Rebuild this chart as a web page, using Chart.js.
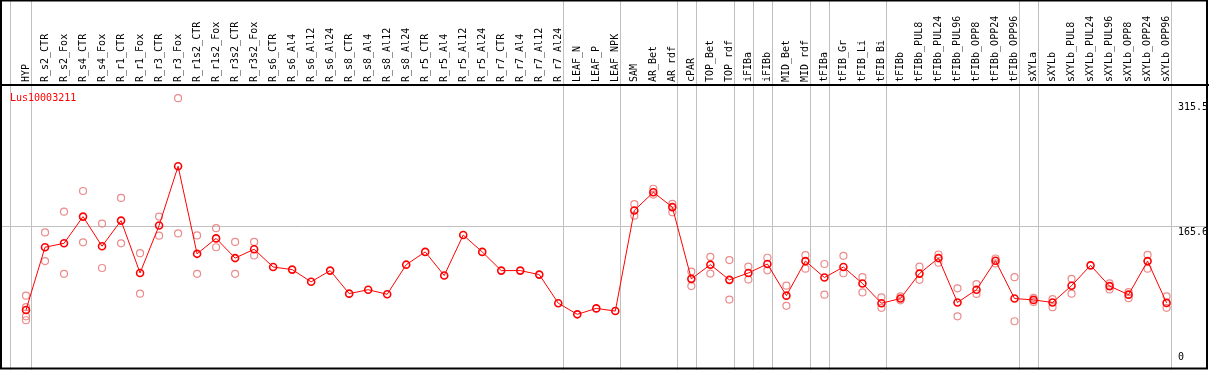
<!DOCTYPE html>
<html>
<head>
<meta charset="utf-8">
<script src="https://cdn.jsdelivr.net/npm/chart.js@4"></script>
<style>
  html, body { margin: 0; padding: 0; background: #fff; }
  canvas { display: block; }
</style>
</head>
<body>
<canvas id="expr" width="1209" height="370"></canvas>
<script>
const GENE = "Lus10003211";

const SAMPLES = ["HYP", "R_s2_CTR", "R_s2_Fox", "R_s4_CTR", "R_s4_Fox", "R_r1_CTR", "R_r1_Fox", "R_r3_CTR", "R_r3_Fox",
  "R_r1s2_CTR", "R_r1s2_Fox", "R_r3s2_CTR", "R_r3s2_Fox", "R_s6_CTR", "R_s6_Al4", "R_s6_Al12", "R_s6_Al24",
  "R_s8_CTR", "R_s8_Al4", "R_s8_Al12", "R_s8_Al24", "R_r5_CTR", "R_r5_Al4", "R_r5_Al12", "R_r5_Al24",
  "R_r7_CTR", "R_r7_Al4", "R_r7_Al12", "R_r7_Al24", "LEAF_N", "LEAF_P", "LEAF_NPK", "SAM", "AR_Bet", "AR_rdf",
  "cPAR", "TOP_Bet", "TOP_rdf", "iFIBa", "iFIBb", "MID_Bet", "MID_rdf", "tFIBa", "tFIB_Gr", "tFIB_Li", "tFIB_Bi",
  "tFIBb", "tFIBb_PUL8", "tFIBb_PUL24", "tFIBb_PUL96", "tFIBb_OPP8", "tFIBb_OPP24", "tFIBb_OPP96",
  "sXYLa", "sXYLb", "sXYLb_PUL8", "sXYLb_PUL24", "sXYLb_PUL96", "sXYLb_OPP8", "sXYLb_OPP24", "sXYLb_OPP96"];

// mean expression per sample
const MEANS = [65.1, 140.4, 145.1, 177.1, 141.6, 172.3, 109.6, 166.4, 237.4, 132.5,
  151.0, 127.4, 138.0, 116.7, 113.6, 99.0, 112.4, 84.8, 89.5, 84.0,
  119.5, 134.8, 106.5, 155.0, 134.8, 112.4, 112.4, 107.6, 73.3, 60.0,
  67.1, 63.9, 184.5, 206.2, 188.5, 102.5, 119.5, 101.3, 109.6, 120.3,
  82.4, 123.8, 104.1, 116.7, 97.0, 73.3, 78.9, 108.8, 127.4, 74.2,
  89.5, 124.2, 78.9, 77.3, 74.2, 94.3, 118.7, 93.8, 83.6, 123.8, 73.7];

// replicates (null = not shown)
const REP1 = [82.4, 158.1, 183.0, 207.8, 168.8, 199.5, 133.3, 177.1, 319.0, 154.6, 163.2, 146.7, 146.7,
  null, null, null, null, null, null, null, null, null, null, null, null, null, null, null, null, null, null, null,
  192.0, 210.5, 192.4, 111.2, 128.9, 125.0, 117.1, 127.8, 94.3, 130.9, 120.3, 130.1, 104.5, 80.4,
  81.5, 117.1, 131.7, 91.1, 96.2, 126.9, 104.5, 79.6, 78.1, 102.6, null, 97.0, 86.7, 131.3, 81.6];
const REP2 = [68.6, 123.8, 108.5, 146.3, 115.5, 145.1, 84.8, 154.2, 157.0, 108.5, 140.4, 108.5, 130.5,
  null, null, null, null, null, null, null, null, null, null, null, null, null, null, null, null, null, null, null,
  178.2, 203.5, 182.2, 93.8, 108.8, 77.7, 101.7, 112.7, 70.2, 114.7, 83.6, 109.2, 86.3, 67.8,
  76.8, 101.4, 121.8, 57.6, 84.4, 121.0, 51.7, 74.9, 68.6, 84.8, null, 89.9, 79.3, 114.7, 67.8];
const REP3 = [57.6];
const REP4 = [52.9];

// last sample index of each group (separator lines)
const GROUP_ENDS = [0, 28, 31, 34, 35, 37, 38, 39, 41, 42, 45, 52, 53, 60];
const Y_TICKS = [0, 165.6, 315.5];
const Y_MAX = 334.8;

const FONT = "10px 'DejaVu Sans Mono', monospace";
const REP_COLOR = "rgb(235,140,140)";

// frame, group separators, y labels and gene name
const decor = {
  id: "decor",
  beforeDatasetsDraw(chart) {
    const { ctx } = chart;
    const x = chart.scales.x, y = chart.scales.y;
    const cell = x.width / SAMPLES.length;
    ctx.save();
    ctx.strokeStyle = "#c0c0c0";
    ctx.lineWidth = 1;
    const xs = [x.getPixelForValue(0) - 0.83 * cell].concat(GROUP_ENDS.map(i => x.getPixelForValue(i) + 0.24 * cell));
    xs.forEach(px => {
      const p = Math.round(px) + 0.5;
      ctx.beginPath(); ctx.moveTo(p, 0); ctx.lineTo(p, chart.height); ctx.stroke();
    });
    const gy = Math.round(y.getPixelForValue(165.6)) + 0.5;
    ctx.beginPath(); ctx.moveTo(1, gy); ctx.lineTo(1207, gy); ctx.stroke();
    ctx.restore();
  },
  afterDraw(chart) {
    const { ctx } = chart;
    const y = chart.scales.y;
    ctx.save();
    ctx.strokeStyle = "#000";
    ctx.lineWidth = 2;
    ctx.strokeRect(1, 0.5, 1206, 368);
    ctx.beginPath(); ctx.moveTo(0, 85); ctx.lineTo(1209, 85); ctx.stroke();
    ctx.font = FONT;
    ctx.fillStyle = "#000";
    ctx.textAlign = "left";
    Y_TICKS.forEach(v => {
      const py = y.getPixelForValue(v);
      if (v === 0) { ctx.textBaseline = "bottom"; ctx.fillText("0", 1178, py - 2); }
      else { ctx.textBaseline = "top"; ctx.fillText(String(v), 1178, py + 1); }
    });
    ctx.fillStyle = "#ff0000";
    ctx.textBaseline = "top";
    ctx.fillText(GENE, 10, 93);
    ctx.restore();
  }
};

function repSet(data) {
  return {
    data: data,
    showLine: false,
    order: 1,
    pointRadius: 3.5,
    pointBorderWidth: 1.2,
    pointBorderColor: REP_COLOR,
    pointBackgroundColor: "rgba(0,0,0,0)"
  };
}

new Chart(document.getElementById("expr"), {
  type: "line",
  data: {
    labels: SAMPLES,
    datasets: [
      {
        data: MEANS,
        order: 0,
        borderColor: "#ff0000",
        borderWidth: 1,
        pointRadius: 3.5,
        pointBorderWidth: 1.6,
        pointBorderColor: "#ff0000",
        pointBackgroundColor: "rgba(0,0,0,0)"
      },
      repSet(REP1), repSet(REP2), repSet(REP3), repSet(REP4)
    ]
  },
  options: {
    responsive: false,
    animation: false,
    layout: { padding: { left: 16.5, right: 32.9, top: 0, bottom: 2 } },
    plugins: { legend: { display: false }, tooltip: { enabled: false } },
    scales: {
      x: {
        position: "top",
        offset: true,
        grid: { display: false, drawTicks: false },
        border: { display: false },
        ticks: {
          autoSkip: false, minRotation: 90, maxRotation: 90, padding: 3, labelOffset: 12,
          color: "#000", font: { family: "'DejaVu Sans Mono', monospace", size: 10 }
        },
        afterFit(scale) { scale.height = 85; }
      },
      y: { display: false, min: 0, max: Y_MAX }
    }
  },
  plugins: [decor]
});
</script>
</body>
</html>
